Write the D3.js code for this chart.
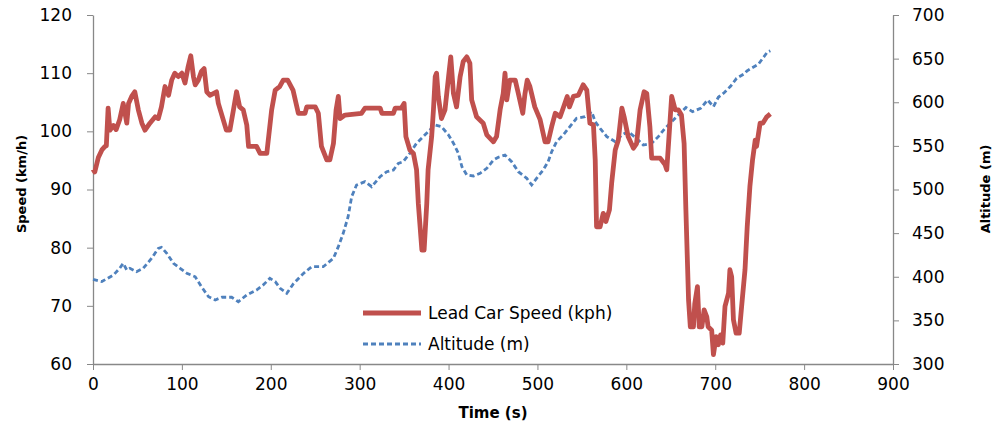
<!DOCTYPE html>
<html>
<head>
<meta charset="utf-8">
<script src="https://cdn.jsdelivr.net/npm/d3@7"></script>
<style>
  body { margin: 0; background: #fff; }
  svg { display: block; }
  .axis path, .axis line { stroke: #888888; }
  .axis text { font-family: "DejaVu Sans", sans-serif; font-size: 17px; fill: #000; }
  .title { font-family: "DejaVu Sans", sans-serif; font-weight: bold; fill: #000; }
  .legend text { font-family: "DejaVu Sans", sans-serif; font-size: 17px; fill: #000; }
</style>
</head>
<body>
<div id="chart"></div>
<script>
'use strict';

// lead car speed, km/h
var speedTime = [0, 2, 6, 10, 13.5, 15, 17, 19, 23, 26, 30, 34, 38, 40, 43.5, 47, 51, 55, 58.5, 64, 70, 73.5, 77, 81, 85, 88.5, 92, 96, 100, 103.5, 107, 110, 113, 115, 118.5, 122, 125, 128, 131.5, 139, 141, 150, 154, 158, 161.5, 165, 169, 173, 175, 184, 188, 195.5, 201, 205, 210, 214, 219, 225, 231, 238.5, 240.5, 250, 253.5, 257, 263, 266.5, 270.5, 273.5, 276, 278, 283.5, 302, 306, 323, 325, 338, 340, 347, 350, 352, 356.5, 360.5, 364, 366, 370, 372.5, 375.5, 377, 381, 383, 385, 386.5, 388.5, 392, 396, 400, 402.5, 405.5, 409, 413, 416.5, 420.5, 424, 426, 431.5, 439, 443, 450.5, 454, 458, 461.5, 463.5, 465.5, 469, 475, 478.5, 483.5, 486, 488.5, 491.5, 497, 503, 508.5, 512, 516, 520, 525.5, 529, 533.5, 536, 540.5, 546, 551.5, 555.5, 559, 563, 565, 566.5, 570.5, 574, 577, 581, 583.5, 587.5, 591, 595, 597.5, 602, 608, 611.5, 615.5, 620, 623, 626.5, 628.5, 638, 643.5, 645.5, 648, 651, 655, 658.5, 662, 665, 667, 670, 672, 675.5, 677, 680, 682, 685, 687.5, 690.5, 692, 696, 698, 701, 703.5, 706, 708.5, 711, 715, 716.5, 718.5, 720.5, 723.5, 727, 730, 733.5, 736, 739, 742, 745, 746.5, 750.5, 753.5, 758, 762];
var speedValues = [93.5, 93, 95.5, 96.8, 97.4, 97.5, 104, 100.2, 101, 100.3, 102, 104.8, 101.4, 104.8, 106, 106.8, 103.7, 101.4, 100.2, 101.4, 102.5, 102.2, 104.2, 107.7, 106.2, 108.8, 110, 109.4, 110, 108.3, 111.1, 113, 109.4, 108, 108.8, 110.3, 110.8, 106.8, 106.2, 106.8, 104.8, 100.2, 100.2, 103.7, 106.8, 104.2, 103.7, 101.1, 97.4, 97.4, 96.2, 96.2, 103.7, 107.1, 107.7, 108.8, 108.8, 107.1, 103.1, 103.1, 104.2, 104.2, 103.1, 97.4, 95.1, 95.1, 97.9, 103.7, 106, 102.2, 102.8, 103.1, 104, 104, 103.1, 103.1, 104, 104, 104.8, 99.1, 96.8, 96.2, 93.4, 87.6, 79.6, 79.6, 87.6, 93.4, 99.1, 103.7, 109.4, 110, 106, 102.2, 103.7, 109.4, 112.8, 106.5, 104.2, 109.4, 112, 112.8, 111.7, 105.4, 102.5, 101.4, 99.4, 98.2, 99.1, 103.7, 106.5, 110, 105.4, 108.8, 108.8, 106.5, 103.1, 106.5, 108.8, 107.7, 104.2, 102, 98.2, 98.2, 100.8, 103.1, 102.5, 104, 106, 104.2, 106, 106.2, 108, 107.1, 101.4, 101.1, 95.1, 83.6, 83.6, 85.9, 84.5, 86.5, 91.1, 96.8, 98.5, 104, 102.5, 99.1, 97.1, 97.9, 103.7, 106.8, 106.5, 100.8, 95.4, 95.4, 94.3, 93.4, 99.1, 106, 103.7, 103.7, 102.8, 97.9, 86.5, 71, 66.4, 66.4, 70.4, 73.3, 66.4, 66.4, 69.3, 68.1, 66.4, 65.8, 61.6, 64.7, 63.3, 65, 63.6, 69.9, 72.2, 76.2, 75, 67.6, 65.3, 65.3, 70.4, 76.2, 83.6, 90.5, 95.1, 98.5, 97.4, 101.4, 101.4, 102.5, 103];

// altitude, m
var altTime = [0, 10, 23, 30, 34, 38, 41.5, 49, 56.5, 66, 73.5, 77, 83, 90.5, 98, 105.5, 115, 122, 130, 137.5, 145, 156, 163.5, 173, 184, 191.5, 199, 205, 210.5, 218, 225.5, 233, 237, 246, 259, 270.5, 276, 281.5, 287, 291, 296.5, 306, 313.5, 323, 330.5, 338, 343.5, 349, 356.5, 364, 371.5, 379, 385, 392, 400, 405.5, 411, 415, 420.5, 428, 435.5, 443, 450.5, 456, 463.5, 471, 478.5, 488, 493.5, 499, 506.5, 512, 516, 521.5, 529, 536.5, 544, 553.5, 561, 565, 570.5, 578, 587.5, 595, 602, 611.5, 619, 628.5, 636, 643.5, 651, 658.5, 667, 674.5, 683.5, 691.5, 698, 703.5, 710, 717.5, 724, 733.5, 735.5, 748.5, 758.5, 762];
var altValues = [397, 394.5, 402, 409.7, 415.4, 407.7, 409.7, 405.8, 409.7, 421.2, 432.6, 433.8, 426.9, 415.4, 409.7, 404, 400, 388.6, 377.1, 373.4, 376.5, 376.5, 371.4, 379.1, 384.8, 390.6, 398.2, 394.4, 386.8, 381, 392, 400, 404, 411.5, 411.5, 421.2, 434.5, 449.8, 468.8, 491.8, 505.2, 509, 503.2, 514.7, 520.4, 522.4, 530, 531.9, 541.5, 553, 560.6, 568.2, 573.9, 572, 562.5, 553, 541.5, 526.2, 516.6, 515.5, 518.6, 524.3, 533.8, 537, 539.5, 531.9, 520.4, 512.8, 505.2, 512.8, 522.4, 531.9, 543.3, 554.8, 562.5, 572, 581.6, 583.4, 589.2, 577.7, 570.1, 560.6, 554.8, 562.5, 566.3, 558.7, 551, 553, 560.6, 570.1, 577.7, 585.4, 594, 589.2, 593, 602.6, 594.9, 605.7, 610.9, 618.6, 627.4, 633.2, 635.8, 643.5, 657.3, 659];

var xTicks = [0, 100, 200, 300, 400, 500, 600, 700, 800, 900];
var speedTicks = [60, 70, 80, 90, 100, 110, 120];
var altTicks = [300, 350, 400, 450, 500, 550, 600, 650, 700];
var seriesNames = ["Lead Car Speed (kph)", "Altitude (m)"];
var seriesColors = ["#C0504D", "#4F81BD"];

var W = 999, H = 425;
var plot = { left: 93, right: 893, top: 15, bottom: 364 };

var svg = d3.select("#chart").append("svg")
    .attr("width", W)
    .attr("height", H);

var x = d3.scaleLinear().domain([0, 900]).range([plot.left, plot.right]);
var ySpeed = d3.scaleLinear().domain([60, 120]).range([plot.bottom, plot.top]);
var yAlt = d3.scaleLinear().domain([300, 700]).range([plot.bottom, plot.top]);

function zip(ts, vs) {
    return ts.map(function(t, i) { return [t, vs[i]]; });
}

// AXES

svg.append("g").attr("class", "axis")
    .attr("transform", "translate(0," + plot.bottom + ")")
    .call(d3.axisBottom(x).tickValues(xTicks).tickSize(6).tickSizeOuter(0).tickPadding(6))
    .selectAll("text").attr("dy", "0.85em");

svg.append("g").attr("class", "axis")
    .attr("transform", "translate(" + plot.left + ",0)")
    .call(d3.axisLeft(ySpeed).tickValues(speedTicks).tickSize(6).tickSizeOuter(0).tickPadding(15));

svg.append("g").attr("class", "axis")
    .attr("transform", "translate(" + plot.right + ",0)")
    .call(d3.axisRight(yAlt).tickValues(altTicks).tickSize(6).tickSizeOuter(0).tickPadding(13));

svg.selectAll(".axis .domain").attr("stroke-width", 1.3);

// TITLES

svg.append("text").attr("class", "title")
    .attr("x", (plot.left + plot.right) / 2)
    .attr("y", 418)
    .attr("text-anchor", "middle")
    .style("font-size", "15px")
    .text("Time (s)");

svg.append("text").attr("class", "title")
    .attr("transform", "translate(26,184) rotate(-90)")
    .attr("text-anchor", "middle")
    .style("font-size", "13px")
    .text("Speed (km/h)");

svg.append("text").attr("class", "title")
    .attr("transform", "translate(990,189) rotate(-90)")
    .attr("text-anchor", "middle")
    .style("font-size", "13px")
    .text("Altitude (m)");

// LINES

var line = function(yScale) {
    return d3.line()
        .x(function(d) { return x(d[0]); })
        .y(function(d) { return yScale(d[1]); });
};

svg.append("path")
    .datum(zip(altTime, altValues))
    .attr("fill", "none")
    .attr("stroke", seriesColors[1])
    .attr("stroke-width", 2.8)
    .attr("stroke-dasharray", "5,3")
    .attr("d", line(yAlt));

svg.append("path")
    .datum(zip(speedTime, speedValues))
    .attr("fill", "none")
    .attr("stroke", seriesColors[0])
    .attr("stroke-width", 4.8)
    .attr("stroke-linejoin", "round")
    .attr("d", line(ySpeed));

// LEGEND

var legend = svg.append("g").attr("class", "legend")
    .attr("transform", "translate(363,313)");

var items = legend.selectAll("g")
    .data(seriesNames)
    .enter().append("g")
    .attr("transform", function(d, i) { return "translate(0," + (i * 31) + ")"; });

items.append("line")
    .attr("x1", 0).attr("x2", 58)
    .attr("y1", 0).attr("y2", 0)
    .attr("stroke", function(d, i) { return seriesColors[i]; })
    .attr("stroke-width", function(d, i) { return i === 0 ? 4.8 : 2.8; })
    .attr("stroke-dasharray", function(d, i) { return i === 0 ? null : "5,3"; });

items.append("text")
    .attr("x", 65)
    .attr("y", 0)
    .attr("dy", "0.35em")
    .text(function(d) { return d; });
</script>
</body>
</html>
